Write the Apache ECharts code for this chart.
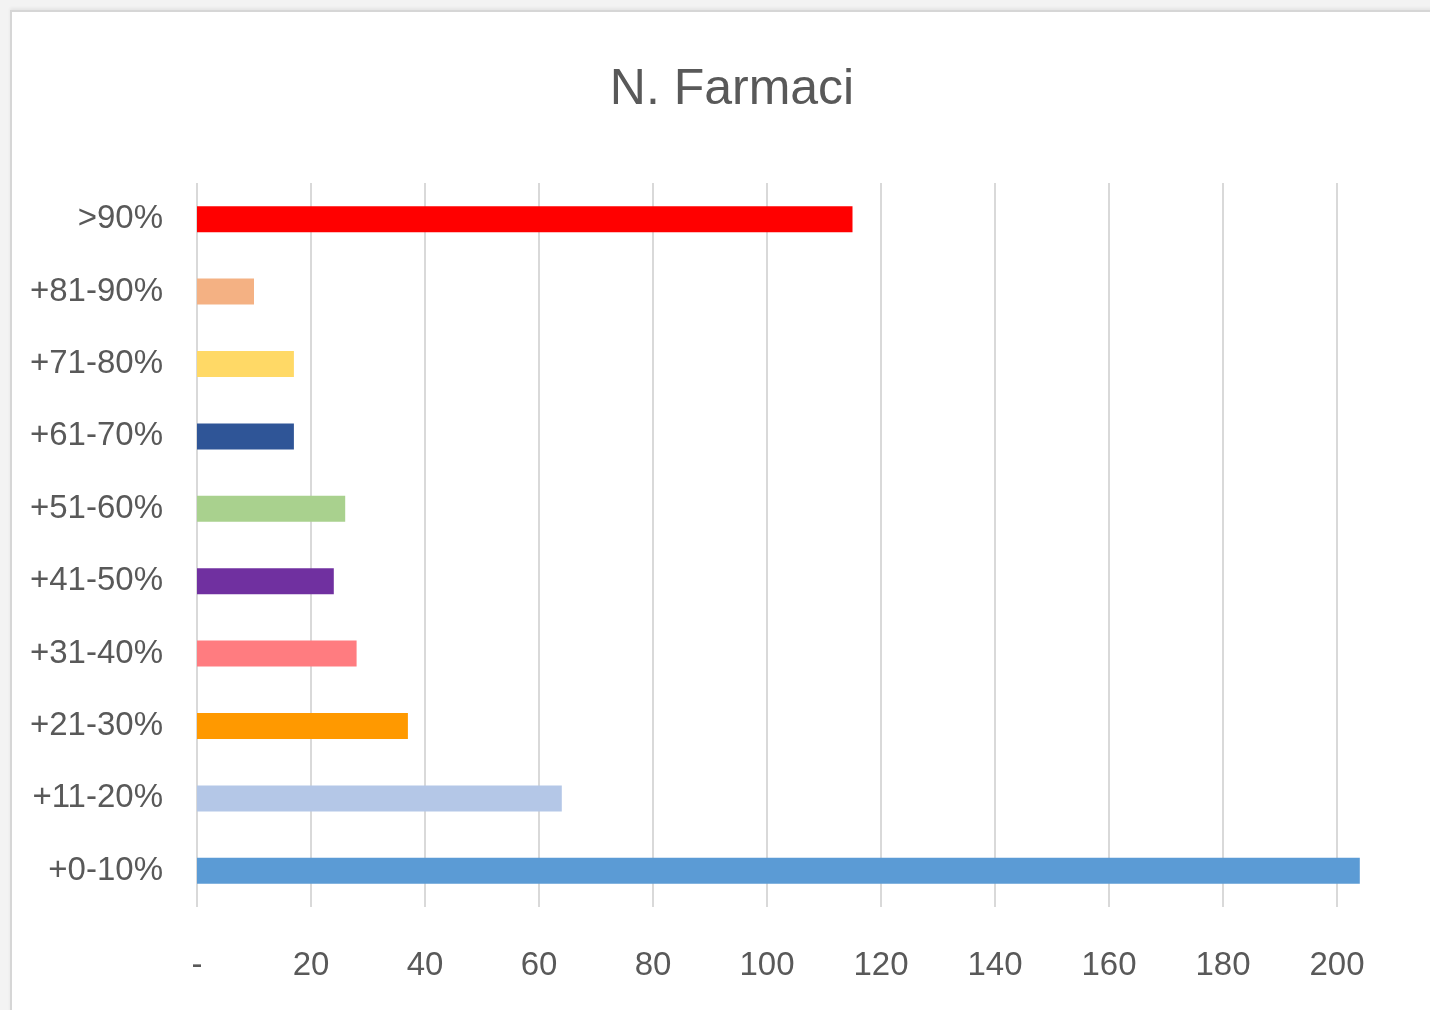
<!DOCTYPE html>
<html>
<head>
<meta charset="utf-8">
<script src="https://cdn.jsdelivr.net/npm/echarts@6/dist/echarts.min.js"></script>
<style>
  html, body { margin: 0; padding: 0; background: #f3f3f3; }
  #frame { position: absolute; left: 10px; top: 10px; width: 1430px; height: 1010px;
           background: #ffffff; border-left: 2px solid #d6d6d6; border-top: 2px solid #d6d6d6;
           box-shadow: 0 -2px 3px rgba(0,0,0,0.06); }
  #chart { position: absolute; left: 0; top: 0; width: 1430px; height: 1010px; }
</style>
</head>
<body>
<div id="frame"></div>
<div id="chart"></div>
<script>
// Fasce di incremento (dal basso verso l'alto)
const categories = ['+0-10%', '+11-20%', '+21-30%', '+31-40%', '+41-50%',
                    '+51-60%', '+61-70%', '+71-80%', '+81-90%', '>90%'];
// Numero di farmaci per fascia
const values = [204, 64, 37, 28, 24, 26, 17, 17, 10, 115];
// Colore di ciascuna barra
const barColors = ['#5B9BD5', '#B4C7E7', '#FF9900', '#FF7C80', '#7030A0',
                   '#A9D18E', '#2F5597', '#FFD966', '#F4B183', '#FF0000'];

const FONT = '"Liberation Sans", Arial, sans-serif';

const chart = echarts.init(document.getElementById('chart'), null, { renderer: 'canvas' });
chart.setOption({
  backgroundColor: 'transparent',
  animation: false,
  title: {
    text: 'N. Farmaci',
    left: 727,
    textAlign: 'center',
    top: 60,
    textStyle: { fontFamily: FONT, fontSize: 50, fontWeight: 'normal', color: '#595959' }
  },
  grid: { left: 197, right: 93, top: 183, bottom: 103 },
  xAxis: {
    type: 'value',
    min: 0,
    max: 200,
    interval: 20,
    axisLine: { show: false },
    axisTick: { show: false },
    splitLine: { show: true, lineStyle: { color: '#d9d9d9', width: 2 } },
    axisLabel: {
      margin: 42,
      fontFamily: FONT, fontSize: 33, color: '#595959',
      formatter: v => (v === 0 ? '-' : String(v))
    }
  },
  yAxis: {
    type: 'category',
    data: categories,
    axisLine: { show: false },
    axisTick: { show: false },
    axisLabel: { margin: 34, fontFamily: FONT, fontSize: 33, color: '#595959' }
  },
  series: [{
    type: 'bar',
    clip: false,
    barWidth: 26,
    data: values.map((v, i) => ({ value: v, itemStyle: { color: barColors[i] } }))
  }]
});
</script>
</body>
</html>
